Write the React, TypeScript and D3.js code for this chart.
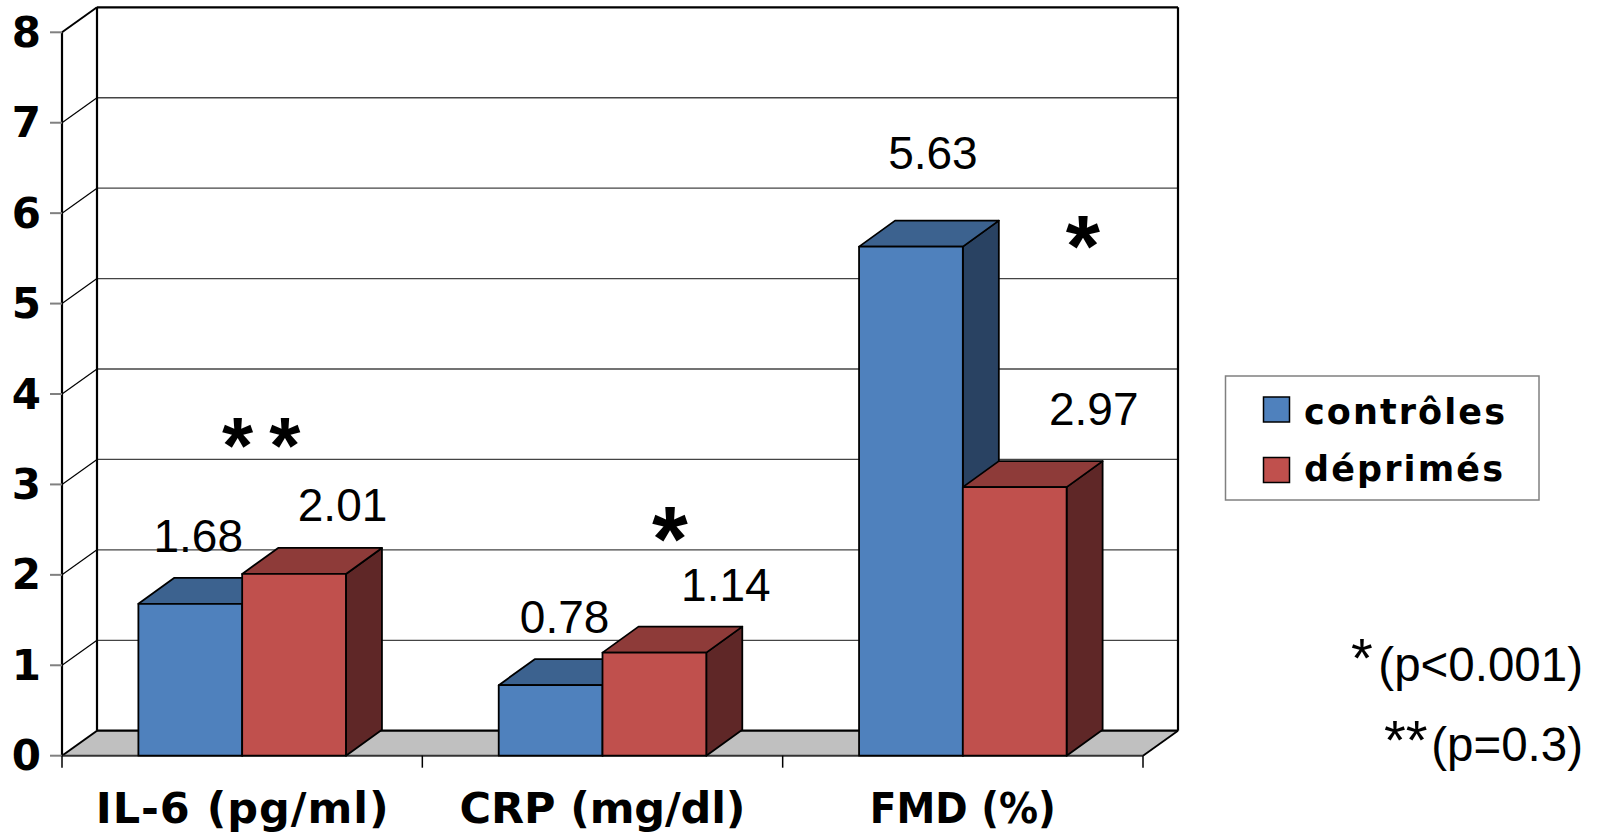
import React from "react";
import * as d3 from "d3";

// Categories and series values
const categories = ["IL-6 (pg/ml)", "CRP (mg/dl)", "FMD (%)"];
const seriesNames = ["contrôles", "déprimés"];
const controles = [1.68, 0.78, 5.63];
const deprimes = [2.01, 1.14, 2.97];
const yTicks = [0, 1, 2, 3, 4, 5, 6, 7, 8];
const significance = ["**", "*", "*"];
const pNotes = [
  { mark: "*", text: "(p<0.001)" },
  { mark: "**", text: "(p=0.3)" },
];

// Colours: front, top and side faces of each series
const palette = [
  { front: "#4F81BD", top: "#3C628F", side: "#294262" },
  { front: "#C0504D", top: "#8E3B39", side: "#5F2727" },
];

// Layout
const W = 1604;
const H = 836;
const plot = { left: 62, right: 1143, top: 32.3, bottom: 755.7 };
const wallDepth = { dx: 35, dy: -25 };
const barDepth = { dx: 36, dy: -26 };
const groupPadFrac = 0.212;
// Value label offsets (dx, dy) from the bar's front-top centre, per series per category
const labelOffsets = [
  [[8, -51.5], [14, -52.5], [22, -77.5]],
  [[48.5, -53], [71.5, -51.5], [79, -62]],
];
// Significance marker offsets from category centre (dx) and top of glyph (y)
const sigLayout = [
  { dx: 19, top: 415, size: 80, spacing: 16 },
  { dx: 67.5, top: 505, size: 92, spacing: 0 },
  { dx: 120, top: 213, size: 88, spacing: 0 },
];
const categoryLabelFit = [
  { width: 293, adjust: "spacing" },
  { width: 286, adjust: "spacing" },
  { width: 186, adjust: "spacingAndGlyphs" },
];
const legendTextWidths = [201, 199];

const SANS = "'DejaVu Sans', Verdana, sans-serif";
const ARIAL = "'Liberation Sans', Arial, Helvetica, sans-serif";

export default function App() {
  const x = d3
    .scaleBand<string>()
    .domain(categories)
    .range([plot.left, plot.right])
    .paddingInner(0)
    .paddingOuter(0);
  const y = d3.scaleLinear().domain([0, 8]).range([plot.bottom, plot.top]);
  const bw = x.bandwidth();
  const inner = d3
    .scaleBand<number>()
    .domain([0, 1])
    .range([bw * groupPadFrac, bw * (1 - groupPadFrac)])
    .padding(0);

  const { dx, dy } = wallDepth;
  const y0 = y(0);
  const yTop = y(8);
  const seriesValues = [controles, deprimes];

  const pts = (arr: number[][]) => arr.map((p) => p.join(",")).join(" ");

  const bars: JSX.Element[] = [];
  categories.forEach((c, ci) => {
    seriesValues.forEach((vals, si) => {
      const v = vals[ci];
      const x0 = (x(c) as number) + (inner(si) as number);
      const x1 = x0 + inner.bandwidth();
      const yt = y(v);
      const col = palette[si];
      const bdx = barDepth.dx;
      const bdy = barDepth.dy;
      bars.push(
        <g key={`${ci}-${si}`} stroke="#000" strokeWidth={1.8} strokeLinejoin="round">
          <polygon
            points={pts([
              [x1, yt],
              [x1 + bdx, yt + bdy],
              [x1 + bdx, y0 + bdy],
              [x1, y0],
            ])}
            fill={col.side}
          />
          <polygon
            points={pts([
              [x0, yt],
              [x0 + bdx, yt + bdy],
              [x1 + bdx, yt + bdy],
              [x1, yt],
            ])}
            fill={col.top}
          />
          <rect x={x0} y={yt} width={x1 - x0} height={y0 - yt} fill={col.front} />
        </g>
      );
    });
  });

  const labels: JSX.Element[] = [];
  categories.forEach((c, ci) => {
    seriesValues.forEach((vals, si) => {
      const v = vals[ci];
      const cx = (x(c) as number) + (inner(si) as number) + inner.bandwidth() / 2;
      const [ox, oy] = labelOffsets[si][ci];
      labels.push(
        <text
          key={`l-${ci}-${si}`}
          x={cx + ox}
          y={y(v) + oy}
          textAnchor="middle"
          fontFamily={ARIAL}
          fontSize={46}
          fill="#000"
        >
          {v.toFixed(2)}
        </text>
      );
    });
  });

  return (
    <svg
      width={W}
      height={H}
      viewBox={`0 0 ${W} ${H}`}
      style={{ position: "absolute", left: 0, top: 0, background: "#fff" }}
    >
      {/* floor */}
      <polygon
        points={pts([
          [plot.left, y0],
          [plot.right, y0],
          [plot.right + dx, y0 + dy],
          [plot.left + dx, y0 + dy],
        ])}
        fill="#C0C0C0"
        stroke="none"
      />
      {/* back wall gridlines */}
      {yTicks.map((t) => (
        <line
          key={`g${t}`}
          x1={plot.left + dx}
          x2={plot.right + dx}
          y1={y(t) + dy}
          y2={y(t) + dy}
          stroke={t === 8 || t === 0 ? "#000" : "#444"}
          strokeWidth={t === 8 || t === 0 ? 2.2 : 1.3}
        />
      ))}
      {/* side wall diagonals */}
      {yTicks.map((t) => (
        <line
          key={`d${t}`}
          x1={plot.left}
          y1={y(t)}
          x2={plot.left + dx}
          y2={y(t) + dy}
          stroke="#000"
          strokeWidth={t === 8 || t === 0 ? 2 : 1.2}
        />
      ))}
      {/* back wall vertical edges */}
      <line x1={plot.left + dx} x2={plot.left + dx} y1={yTop + dy} y2={y0 + dy} stroke="#000" strokeWidth={2.2} />
      <line x1={plot.right + dx} x2={plot.right + dx} y1={yTop + dy} y2={y0 + dy} stroke="#000" strokeWidth={2.2} />
      {/* floor right edge and front edge */}
      <line x1={plot.right} y1={y0} x2={plot.right + dx} y2={y0 + dy} stroke="#000" strokeWidth={1.8} />
      <line x1={plot.left} y1={y0} x2={plot.right} y2={y0} stroke="#333" strokeWidth={2} />
      {/* front vertical axis */}
      <line x1={plot.left} x2={plot.left} y1={yTop} y2={y0} stroke="#000" strokeWidth={2.2} />
      {/* y ticks */}
      {yTicks.map((t) => (
        <g key={`t${t}`}>
          <line x1={plot.left - 12} x2={plot.left} y1={y(t)} y2={y(t)} stroke="#808080" strokeWidth={2} />
          <text
            x={41}
            y={y(t)}
            textAnchor="end"
            dominantBaseline="central"
            fontFamily={SANS}
            fontWeight="bold"
            fontSize={42}
            fill="#000"
          >
            {t}
          </text>
        </g>
      ))}
      {/* category ticks */}
      {[...categories.map((c) => x(c) as number), plot.right].map((px, i) => (
        <line key={`ct${i}`} x1={px} x2={px} y1={y0} y2={y0 + 12} stroke="#000" strokeWidth={1.5} />
      ))}
      {bars}
      {labels}
      {/* significance markers */}
      {categories.map((c, ci) => {
        const s = sigLayout[ci];
        const cx = (x(c) as number) + bw / 2 + s.dx;
        return (
          <text
            key={`s${ci}`}
            x={cx + s.spacing / 2}
            y={s.top + 0.72 * s.size}
            textAnchor="middle"
            fontFamily={ARIAL}
            fontWeight="bold"
            fontSize={s.size}
            letterSpacing={s.spacing}
            fill="#000"
          >
            {significance[ci]}
          </text>
        );
      })}
      {/* category labels */}
      {categories.map((c, ci) => (
        <text
          key={`c-${c}`}
          x={(x(c) as number) + bw / 2}
          y={823}
          textAnchor="middle"
          fontFamily={SANS}
          fontWeight="bold"
          fontSize={43}
          fill="#000"
          textLength={categoryLabelFit[ci].width}
          lengthAdjust={categoryLabelFit[ci].adjust}
        >
          {c}
        </text>
      ))}
      {/* legend */}
      <rect x={1225.5} y={376} width={313.5} height={124} fill="#fff" stroke="#808080" strokeWidth={1.5} />
      {seriesNames.map((n, i) => (
        <g key={`lg${i}`}>
          <rect
            x={1263.5}
            y={397 + i * 60.5}
            width={26}
            height={25}
            fill={palette[i].front}
            stroke="#000"
            strokeWidth={1.5}
          />
          <text
            x={1304}
            y={424 + i * 57}
            fontFamily={SANS}
            fontWeight="bold"
            fontSize={35}
            fill="#000"
            textLength={legendTextWidths[i]}
            lengthAdjust="spacing"
          >
            {n}
          </text>
        </g>
      ))}
      {/* p-value notes */}
      {pNotes.map((p, i) => (
        <g key={`pn${i}`} fontFamily={ARIAL} fill="#000">
          <text x={1583} y={681 + i * 80} textAnchor="end" fontSize={47.5}>
            {p.text}
          </text>
          <text x={i === 0 ? 1351 : 1384} y={(i === 0 ? 637 : 719) + 0.72 * 56} fontSize={56}>
            {p.mark}
          </text>
        </g>
      ))}
    </svg>
  );
}
